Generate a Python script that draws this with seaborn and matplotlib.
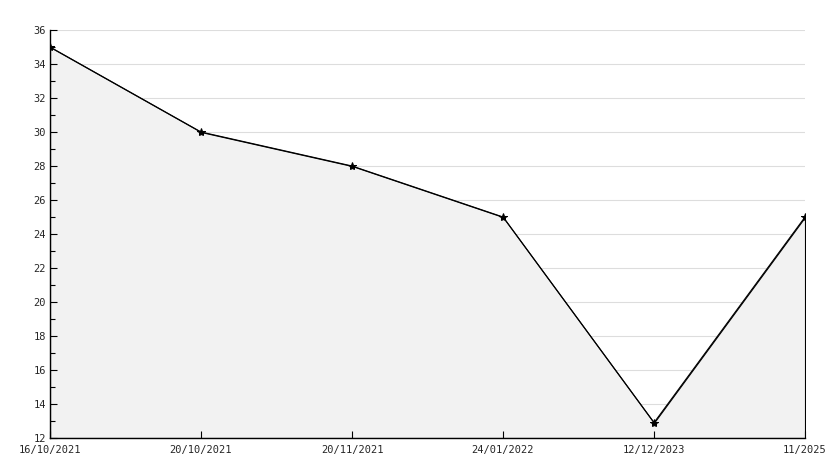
import numpy as np
import pandas as pd
import matplotlib.pyplot as plt
import seaborn as sns
from matplotlib.ticker import MultipleLocator

dates = ["16/10/2021", "20/10/2021", "20/11/2021", "24/01/2022", "12/12/2023", "11/2025"]
values = [35, 30, 28, 25, 12.9, 25]

df = pd.DataFrame({"date": dates, "value": values})
df["pos"] = np.arange(len(df))

sns.set_style("white")
plt.rcParams["font.family"] = ["DejaVu Sans Mono", "DejaVu Sans"]

fig = plt.figure(figsize=(8.34, 4.68), dpi=100)
ax = fig.add_axes([50 / 834, 30 / 468, 755 / 834, 408 / 468])

ax.set_xlim(0, len(df) - 1)
ax.set_ylim(12, 36)

# grid drawn under the filled area
ax.hlines(np.arange(12, 37, 2), 0, len(df) - 1, color="#dddddd", linewidth=0.8, zorder=0)

ax.fill_between(df["pos"], df["value"], 12, facecolor="#f2f2f2",
                edgecolor="black", linewidth=0.8, zorder=1)
sns.lineplot(data=df, x="pos", y="value", color="black", linewidth=0.8,
             marker="*", markersize=6, markeredgecolor="black", ax=ax, zorder=3)

ax.yaxis.set_major_locator(MultipleLocator(2))
ax.yaxis.set_minor_locator(MultipleLocator(1))
ax.set_xticks(df["pos"])
ax.set_xticklabels(df["date"])
ax.grid(False)
ax.set_axisbelow(False)

for s in ["top", "right"]:
    ax.spines[s].set_visible(False)
for s in ["left", "bottom"]:
    ax.spines[s].set_color("black")
    ax.spines[s].set_linewidth(1.0)

ax.tick_params(axis="both", which="major", direction="in", length=5, width=0.8,
               color="black", labelsize=7.5, pad=3, left=True, bottom=True)
ax.tick_params(axis="y", which="minor", direction="in", length=3.5, width=0.8,
               color="black", left=True)
ax.tick_params(axis="x", pad=5)
ax.set_xlabel("")
ax.set_ylabel("")

fig.savefig("out.png", dpi=100)
